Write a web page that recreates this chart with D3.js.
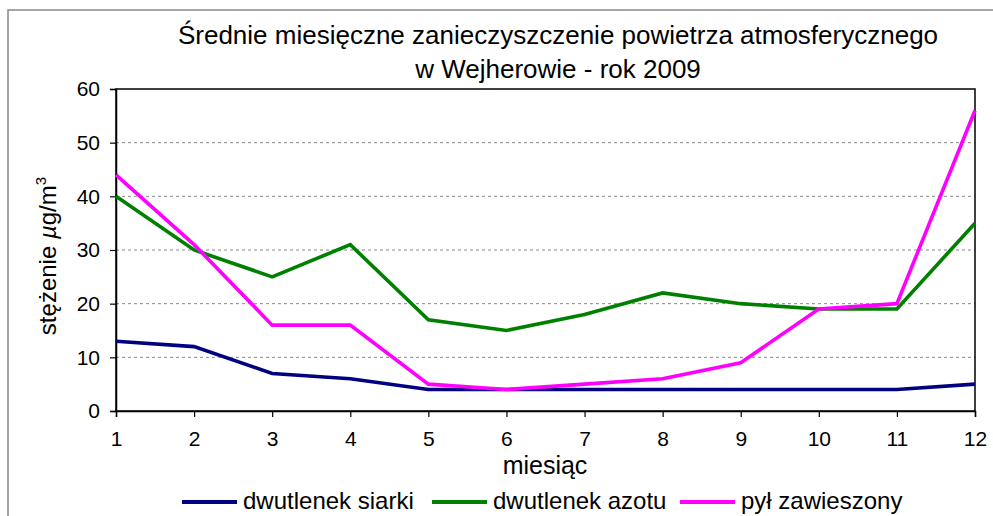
<!DOCTYPE html>
<html>
<head>
<meta charset="utf-8">
<script src="https://cdn.jsdelivr.net/npm/d3@7"></script>
<style>
    body { margin: 0; background: #fff; }
    svg { display: block; font-family: "Liberation Sans", Arial, sans-serif; }
</style>
</head>
<body>
<svg id="chart"></svg>
<script>
const months = [1, 2, 3, 4, 5, 6, 7, 8, 9, 10, 11, 12];
const so2 = [13, 12, 7, 6, 4, 4, 4, 4, 4, 4, 4, 5];
const no2 = [40, 30, 25, 31, 17, 15, 18, 22, 20, 19, 19, 35];
const pm = [44, 31, 16, 16, 5, 4, 5, 6, 9, 19, 20, 56];
const yTicks = [0, 10, 20, 30, 40, 50, 60];
const seriesNames = ["dwutlenek siarki", "dwutlenek azotu", "pył zawieszony"];
const seriesColors = ["#000080", "#008000", "#ff00ff"];

const W = 993, H = 516;
const plotL = 116, plotR = 975, plotT = 89, plotB = 411;

const svg = d3.select("#chart").attr("width", W).attr("height", H);

// outer frame (only left and top edges are visible)
svg.append("path")
    .attr("d", `M8,${H + 5} L8,10 L${W + 5},10`)
    .attr("fill", "none")
    .attr("stroke", "#888")
    .attr("stroke-width", 1.5);

const x = d3.scaleLinear().domain([1, 12]).range([plotL, plotR]);
const y = d3.scaleLinear().domain([0, 60]).range([plotB, plotT]);

// grid
svg.append("g")
    .selectAll("line")
    .data(yTicks.slice(1, -1))
    .enter()
    .append("line")
    .attr("x1", plotL).attr("x2", plotR)
    .attr("y1", d => y(d)).attr("y2", d => y(d))
    .attr("stroke", "#888")
    .attr("stroke-dasharray", "3,3");

// plot box
svg.append("rect")
    .attr("x", plotL).attr("y", plotT)
    .attr("width", plotR - plotL).attr("height", plotB - plotT)
    .attr("fill", "none")
    .attr("stroke", "#000")
    .attr("stroke-width", 1.5);

const yAxis = svg.append("g")
    .attr("transform", `translate(${plotL},0)`)
    .call(d3.axisLeft(y).tickValues(yTicks).tickSize(6).tickPadding(10));
const xAxis = svg.append("g")
    .attr("transform", `translate(0,${plotB})`)
    .call(d3.axisBottom(x).tickValues(months).tickSize(6).tickPadding(14));

[yAxis, xAxis].forEach(a => {
    a.select(".domain").attr("stroke", "#000").attr("stroke-width", 1.5);
    a.selectAll(".tick line").attr("stroke", "#000").attr("stroke-width", 1.2);
    a.selectAll("text")
        .attr("font-size", 21)
        .attr("fill", "#000")
        .attr("font-family", "Liberation Sans, Arial, sans-serif");
});

// lines
const allSeries = [so2, no2, pm];
const line = d3.line().x((d, i) => x(months[i])).y(d => y(d));
svg.append("g")
    .selectAll("path")
    .data(allSeries)
    .enter()
    .append("path")
    .attr("d", d => line(d))
    .attr("fill", "none")
    .attr("stroke", (d, i) => seriesColors[i])
    .attr("stroke-width", 3.6)
    .attr("stroke-linejoin", "miter");

// title
const title = svg.append("text")
    .attr("x", 558).attr("y", 44)
    .attr("text-anchor", "middle")
    .attr("font-size", 26)
    .attr("fill", "#000");
title.append("tspan").attr("x", 558).text("Średnie miesięczne zanieczyszczenie powietrza atmosferycznego");
title.append("tspan").attr("x", 558).attr("dy", 34).text("w Wejherowie - rok 2009");

// axis titles
svg.append("text")
    .attr("x", 545).attr("y", 474)
    .attr("text-anchor", "middle")
    .attr("font-size", 25)
    .text("miesiąc");

const yl = svg.append("text")
    .attr("transform", "translate(56,256) rotate(-90)")
    .attr("text-anchor", "middle")
    .attr("font-size", 24);
yl.append("tspan").text("stężenie ");
yl.append("tspan").attr("font-style", "italic").text("µ");
yl.append("tspan").text("g/m");
yl.append("tspan").attr("font-size", 15).attr("dy", -10).text("3");

// legend
const legendX = [182, 432, 680];
const lg = svg.append("g")
    .selectAll("g")
    .data(seriesNames)
    .enter()
    .append("g")
    .attr("transform", (d, i) => `translate(${legendX[i]},502)`);
lg.append("line")
    .attr("x1", 0).attr("x2", 55)
    .attr("stroke", (d, i) => seriesColors[i])
    .attr("stroke-width", 4);
lg.append("text")
    .attr("x", 61).attr("y", 7)
    .attr("font-size", 24)
    .text(d => d);
</script>
</body>
</html>
